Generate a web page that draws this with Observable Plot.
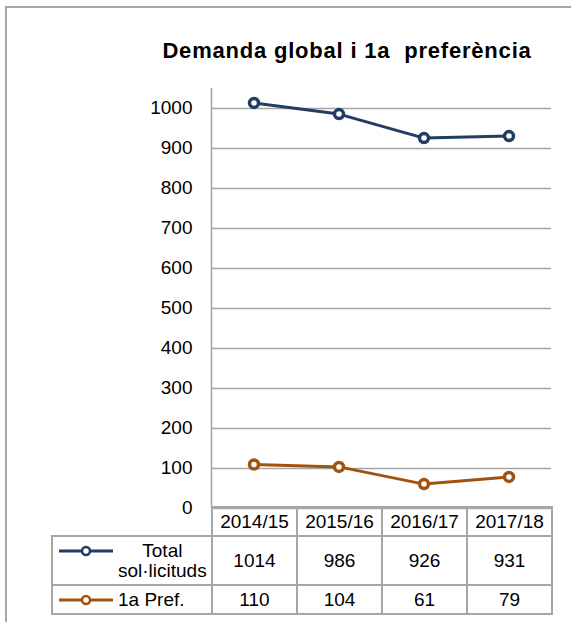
<!DOCTYPE html>
<html>
<head>
<meta charset="utf-8">
<script src="https://cdn.jsdelivr.net/npm/d3@7"></script>
<script src="https://cdn.jsdelivr.net/npm/@observablehq/plot@0.6"></script>
<style>
  body { margin: 0; background: #fff; font-family: "Liberation Sans", Arial, sans-serif; }
  #wrap { position: relative; width: 571px; height: 622px; overflow: hidden; background: #fff; }
  #frameBox { position: absolute; left: 5px; top: 6px; width: 700px; height: 700px;
    border-left: 2px solid #a6a6a6; border-top: 2px solid #a6a6a6; }
  #title { position: absolute; left: 0; width: 694px; text-align: center; top: 40px; font-size: 22px; line-height: 22px;
    font-weight: bold; color: #000; white-space: pre; letter-spacing: 0.8px; }
  #chart { position: absolute; left: 0; top: 0; }
  #tbl { position: absolute; left: 51px; top: 506px; border-collapse: collapse; table-layout: fixed;
    font-size: 19px; color: #000; }
  #tbl td { border: 2px solid #a6a6a6; text-align: center; padding: 0; }
  #tbl td.blank { border: none; }
  #tbl tr.head td { height: 27px; }
  #tbl tr.r1 td { height: 47px; }
  #tbl tr.r2 td { height: 27px; }
  #tbl td.key { text-align: left; padding-left: 6px; }
  .keyWrap { display: flex; align-items: flex-start; }
  .keyLabel { display: inline-block; text-align: center; line-height: 20px; margin-left: 5px; }
</style>
</head>
<body>
<div id="wrap">
  <div id="frameBox"></div>
  <div id="chart"></div>
  <div id="title"></div>
  <table id="tbl"></table>
</div>
<script>
const title = "Demanda global i 1a  preferència";
const years = ["2014/15", "2015/16", "2016/17", "2017/18"];
const seriesNames = ["Total sol·licituds", "1a Pref."];
const seriesLabels = [["Total", "sol·licituds"], ["1a Pref."]];
const totalValues = [1014, 986, 926, 931];
const prefValues = [110, 104, 61, 79];
const yTicks = [0, 100, 200, 300, 400, 500, 600, 700, 800, 900, 1000];
const colors = ["#213d62", "#a2520f"];

document.getElementById("title").textContent = title;

const allValues = [totalValues, prefValues];
const data = [];
seriesNames.forEach((s, si) => {
  years.forEach((yr, i) => {
    data.push({series: s, year: yr, idx: i + 0.5, value: allValues[si][i]});
  });
});

const grid = "#a6a6a6";
const chart = Plot.plot({
  width: 571,
  height: 509,
  marginTop: 88,
  marginBottom: 1,
  marginLeft: 211,
  marginRight: 20,
  style: { fontFamily: "Liberation Sans, Arial, sans-serif", background: "transparent", overflow: "visible" },
  x: { domain: [0, years.length], axis: null },
  y: { domain: [0, 1050], axis: null },
  color: { domain: seriesNames, range: colors },
  marks: [
    Plot.ruleY(yTicks, { stroke: grid, strokeWidth: 1.6 }),
    Plot.ruleX([0], { stroke: grid, strokeWidth: 1.6 }),
    Plot.text(yTicks, { x: () => 0, y: d => d, text: d => String(d), textAnchor: "end", dx: -19, dy: -1,
      fontSize: 19, fill: "#000" }),
    Plot.line(data, { x: "idx", y: "value", z: "series", stroke: "series", strokeWidth: 3 }),
    Plot.dot(data, { x: "idx", y: "value", stroke: "series", fill: "#fff", r: 4.5, strokeWidth: 3.5 })
  ]
});
document.getElementById("chart").appendChild(chart);

// data table below the plot
const tbl = document.getElementById("tbl");
const colg = document.createElement("colgroup");
[160, 85, 85, 85, 85].forEach(w => { const c = document.createElement("col"); c.style.width = w + "px"; colg.appendChild(c); });
tbl.appendChild(colg);
const head = document.createElement("tr"); head.className = "head";
const blank = document.createElement("td"); blank.className = "blank"; head.appendChild(blank);
years.forEach(y => { const td = document.createElement("td"); td.textContent = y; head.appendChild(td); });
tbl.appendChild(head);

seriesNames.forEach((s, si) => {
  const tr = document.createElement("tr"); tr.className = si === 0 ? "r1" : "r2";
  const key = document.createElement("td"); key.className = "key";
  const wrap = document.createElement("div"); wrap.className = "keyWrap";
  const ns = "http://www.w3.org/2000/svg";
  const sw = document.createElementNS(ns, "svg");
  sw.setAttribute("width", 54); sw.setAttribute("height", 20);
  const ln = document.createElementNS(ns, "line");
  ln.setAttribute("x1", 0); ln.setAttribute("x2", 54); ln.setAttribute("y1", 10); ln.setAttribute("y2", 10);
  ln.setAttribute("stroke", colors[si]); ln.setAttribute("stroke-width", 3);
  const ci = document.createElementNS(ns, "circle");
  ci.setAttribute("cx", 27); ci.setAttribute("cy", 10); ci.setAttribute("r", 4);
  ci.setAttribute("fill", "#fff"); ci.setAttribute("stroke", colors[si]); ci.setAttribute("stroke-width", 2.5);
  sw.appendChild(ln); sw.appendChild(ci);
  wrap.appendChild(sw);
  const lab = document.createElement("div"); lab.className = "keyLabel";
  lab.innerHTML = seriesLabels[si].join("<br>");
  wrap.appendChild(lab);
  key.appendChild(wrap);
  tr.appendChild(key);
  allValues[si].forEach(v => { const td = document.createElement("td"); td.textContent = v; tr.appendChild(td); });
  tbl.appendChild(tr);
});
</script>
</body>
</html>
